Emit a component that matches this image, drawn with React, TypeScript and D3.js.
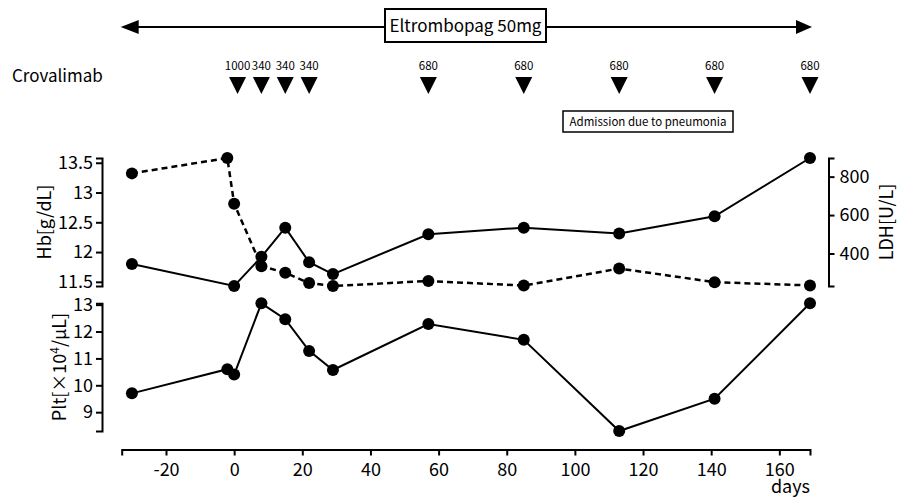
import React, { useEffect, useRef } from "react";
import * as d3 from "d3";

// days from start of crovalimab
const days = [-30, -2, 0, 8, 15, 22, 29, 57, 85, 113, 141, 169];
const hbValues = [11.8, null, 11.43, 11.92, 12.41, 11.83, 11.63, 12.3, 12.41, 12.31, 12.6, 13.58];
const ldhValues = [817, 897, 659, 334, 300, 246, 231, 257, 233, 322, 251, 234];
const pltValues = [9.7, 10.6, 10.4, 13.05, 12.46, 11.28, 10.57, 12.28, 11.69, 8.3, 9.5, 13.05];

const doseDays = [1, 8, 15, 22, 57, 85, 113, 141, 169];
const doseLabels = ["1000", "340", "340", "340", "680", "680", "680", "680", "680"];

const xTicks = [-20, 0, 20, 40, 60, 80, 100, 120, 140, 160];
const hbTicks = [11.5, 12, 12.5, 13, 13.5];
const ldhTicks = [400, 600, 800];
const pltTicks = [9, 10, 11, 12, 13];

const FONT = "'Noto Sans CJK JP', 'Noto Sans', sans-serif";

function App() {
  const ref = useRef<SVGSVGElement | null>(null);

  useEffect(() => {
    document.body.style.margin = "0";
    const svg = d3.select(ref.current);
    svg.selectAll("*").remove();
    svg.attr("font-family", FONT);

    const x = d3.scaleLinear().domain([-33, 169]).range([121.7, 810]);
    const yHb = d3.scaleLinear().domain(d3.extent(hbValues.filter(v => v != null)) as [number, number]).range([286, 158]);
    const yLdh = d3.scaleLinear().domain(d3.extent(ldhValues) as [number, number]).range([286, 158]);
    const yPlt = d3.scaleLinear().domain(d3.extent(pltValues) as [number, number]).range([431, 303.3]);

    const styleAxis = (g: any, size: number) => {
      g.selectAll("path").attr("stroke-width", 2);
      g.selectAll("line").attr("stroke-width", 2);
      g.selectAll("text").attr("font-size", size).attr("font-family", FONT).attr("fill", "#000");
    };

    // x axis
    svg
      .append("g")
      .attr("transform", "translate(0,449.5)")
      .call(
        d3
          .axisBottom(x)
          .tickValues(xTicks)
          .tickFormat(d => String(d))
          .tickSize(6)
          .tickPadding(8)
      )
      .call(g => styleAxis(g, 18));

    svg
      .append("text")
      .attr("x", 810)
      .attr("y", 493)
      .attr("text-anchor", "end")
      .attr("font-size", 18)
      .text("days");

    // Hb axis
    svg
      .append("g")
      .attr("transform", "translate(102,0)")
      .call(d3.axisLeft(yHb).tickValues(hbTicks).tickFormat(d => String(d)).tickSize(6).tickPadding(3))
      .call(g => styleAxis(g, 18));

    // LDH axis
    svg
      .append("g")
      .attr("transform", "translate(828.5,0)")
      .call(d3.axisRight(yLdh).tickValues(ldhTicks).tickFormat(d => String(d)).tickSize(6).tickPadding(5))
      .call(g => styleAxis(g, 18));

    // Plt axis
    svg
      .append("g")
      .attr("transform", "translate(102,0)")
      .call(d3.axisLeft(yPlt).tickValues(pltTicks).tickFormat(d => String(d)).tickSize(6).tickPadding(3))
      .call(g => styleAxis(g, 18));

    // axis titles
    svg
      .append("text")
      .attr("transform", "translate(51,222) rotate(-90)")
      .attr("text-anchor", "middle")
      .attr("font-size", 18)
      .text("Hb[g/dL]");

    svg
      .append("text")
      .attr("transform", "translate(893,222) rotate(-90)")
      .attr("text-anchor", "middle")
      .attr("font-size", 18)
      .text("LDH[U/L]");

    const plt = svg
      .append("text")
      .attr("transform", "translate(66,367) rotate(-90)")
      .attr("text-anchor", "middle")
      .attr("font-size", 18);
    plt.append("tspan").text("Plt[×10");
    plt.append("tspan").attr("font-size", 12).attr("dy", -7).text("4");
    plt.append("tspan").attr("dy", 7).text("/μL]");

    // series
    const hbData = days.map((d, i) => ({ d, v: hbValues[i] })).filter(p => p.v != null) as { d: number; v: number }[];
    const ldhData = days.map((d, i) => ({ d, v: ldhValues[i] }));
    const pltData = days.map((d, i) => ({ d, v: pltValues[i] }));

    const drawSeries = (data: { d: number; v: number }[], y: any, dashed: boolean) => {
      const line = d3
        .line<{ d: number; v: number }>()
        .x(p => x(p.d))
        .y(p => y(p.v));
      svg
        .append("path")
        .datum(data)
        .attr("d", line)
        .attr("fill", "none")
        .attr("stroke", "#000")
        .attr("stroke-width", dashed ? 2.5 : 2)
        .attr("stroke-dasharray", dashed ? "6,4" : null);
      svg
        .append("g")
        .selectAll("circle")
        .data(data)
        .enter()
        .append("circle")
        .attr("cx", p => x(p.d))
        .attr("cy", p => y(p.v))
        .attr("r", 6)
        .attr("fill", "#000");
    };

    drawSeries(ldhData, yLdh, true);
    drawSeries(hbData, yHb, false);
    drawSeries(pltData, yPlt, false);

    // Eltrombopag arrow
    const top = svg.append("g");
    top
      .append("line")
      .attr("x1", x(-33) + 10)
      .attr("x2", x(169) - 10)
      .attr("y1", 27)
      .attr("y2", 27)
      .attr("stroke", "#000")
      .attr("stroke-width", 2);
    top
      .append("path")
      .attr("d", `M${x(-33) - 1},27 L${x(-33) + 17},20 L${x(-33) + 17},34 Z`)
      .attr("fill", "#000");
    top
      .append("path")
      .attr("d", `M${x(169) + 2},27 L${x(169) - 14},20 L${x(169) - 14},34 Z`)
      .attr("fill", "#000");
    top
      .append("rect")
      .attr("x", 385)
      .attr("y", 9)
      .attr("width", 161)
      .attr("height", 33)
      .attr("fill", "#fff")
      .attr("stroke", "#000")
      .attr("stroke-width", 2);
    top
      .append("text")
      .attr("x", 465.5)
      .attr("y", 26)
      .attr("dy", "0.35em")
      .attr("text-anchor", "middle")
      .attr("font-size", 17)
      .text("Eltrombopag 50mg");

    // Crovalimab doses
    svg
      .append("text")
      .attr("x", 12)
      .attr("y", 76)
      .attr("dy", "0.35em")
      .attr("font-size", 17)
      .text("Crovalimab");

    const doses = svg
      .append("g")
      .selectAll("g")
      .data(doseDays.map((d, i) => ({ d, label: doseLabels[i] })))
      .enter()
      .append("g")
      .attr("transform", p => `translate(${x(p.d)},0)`);
    doses
      .append("text")
      .attr("y", 66)
      .attr("dy", "0.35em")
      .attr("text-anchor", "middle")
      .attr("font-size", 11.5)
      .text(p => p.label);
    doses
      .append("path")
      .attr("d", "M-8.5,77 L8.5,77 L0,94 Z")
      .attr("fill", "#000");

    // admission annotation
    svg
      .append("rect")
      .attr("x", 563)
      .attr("y", 111)
      .attr("width", 170)
      .attr("height", 21)
      .attr("fill", "#fff")
      .attr("stroke", "#000")
      .attr("stroke-width", 1.5);
    svg
      .append("text")
      .attr("x", 648)
      .attr("y", 121.5)
      .attr("dy", "0.35em")
      .attr("text-anchor", "middle")
      .attr("font-size", 11.5)
      .text("Admission due to pneumonia");
  }, []);

  return <svg ref={ref} width={903} height={498} style={{ display: "block" }} />;
}

export default App;
